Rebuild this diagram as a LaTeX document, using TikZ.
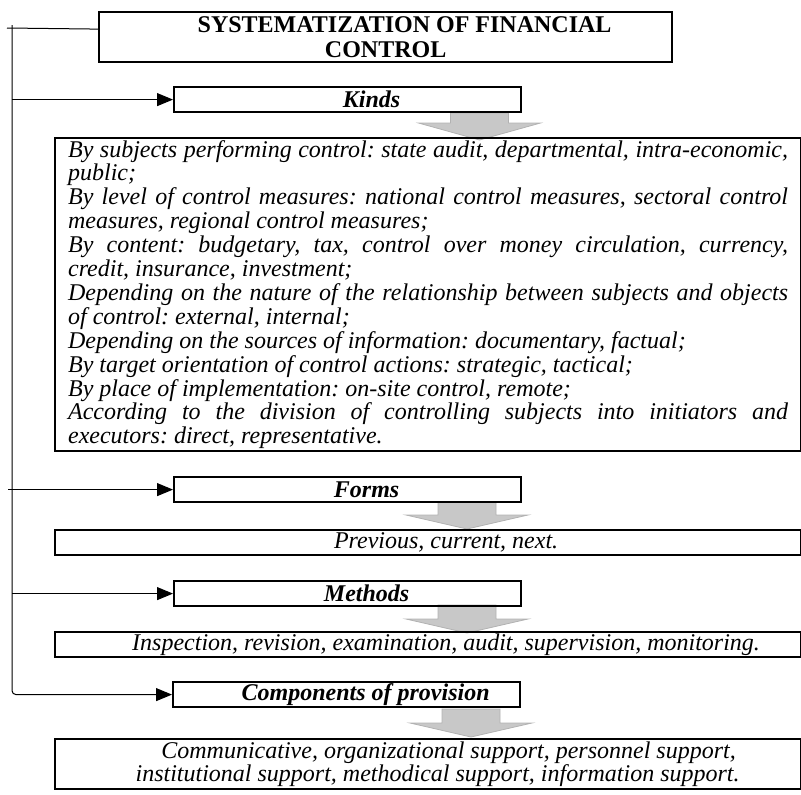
\documentclass[tikz,border=0pt]{standalone}
\usepackage{fontspec}
\setmainfont{Liberation Serif}
\usetikzlibrary{arrows.meta}

\definecolor{arrowfill}{RGB}{200,200,200}
\definecolor{arrowline}{RGB}{178,178,178}

% text shifted a little to the right, as in the original layout
\newcommand{\shifted}[2][38pt]{\hspace*{#1}#2}
% broad gray arrow pointing down: centre x, top, start of head, tip
\newcommand{\grayarrow}[4]{%
  \filldraw[fill=arrowfill, draw=arrowline, line width=0.8pt]
    (#1-29,#2) -- (#1+29,#2) -- (#1+29,#3) -- (#1+61,#3) -- (#1,#4)
    -- (#1-61,#3) -- (#1-29,#3) -- cycle;}

\tikzset{
  box/.style={draw, line width=2.2pt, inner sep=0pt, anchor=north west},
  headbox/.style={box, minimum width=347pt, minimum height=25pt,
    font=\fontsize{24}{24}\selectfont\bfseries\itshape},
  listbox/.style={box, minimum width=746pt, minimum height=25pt,
    font=\fontsize{24}{23.5}\selectfont\itshape},
  link/.style={line width=1pt, -{Triangle[length=16pt,width=13pt]}},
}

\begin{document}
\frenchspacing
\begin{tikzpicture}[x=1pt,y=-1pt]
    \useasboundingbox (0,0) rectangle (801,795);

    \grayarrow{479.5}{113}{123}{140}
    \grayarrow{467}{502}{515}{529}
    \grayarrow{467}{605}{619}{633}
    \grayarrow{471}{709}{723}{737}

    \node[box, minimum width=573pt, minimum height=50pt, align=center,
      font=\fontsize{24}{25}\selectfont\bfseries] (title) at (98,11)
      {\shifted[38pt]{SYSTEMATIZATION OF FINANCIAL}\\CONTROL};

    \node[headbox] (kinds) at (173,86) {\shifted[48pt]{Kinds}};
    \node[box, minimum width=746pt, minimum height=313pt, text width=720pt,
      inner xsep=13pt, align=justify,
      font=\fontsize{24}{23.9}\selectfont\itshape] (kindslist) at (54,137) {%
      \tolerance=9999 \hyphenpenalty=10000
      By subjects performing control: state audit, departmental, intra-economic,\linebreak public;\par
      By level of control measures: national control measures, sectoral control\linebreak measures, regional control measures;\par
      By content: budgetary, tax, control over money circulation, currency,\linebreak credit, insurance, investment;\par
      Depending on the nature of the relationship between subjects and objects\linebreak of control: external, internal;\par
      Depending on the sources of information: documentary, factual;\par
      By target orientation of control actions: strategic, tactical;\par
      By place of implementation: on-site control, remote;\par
      According to the division of controlling subjects into initiators and\linebreak executors: direct, representative.};

    \node[headbox] (forms) at (173,476) {\shifted{Forms}};
    \node[listbox] (formslist) at (54,529) {\shifted[36pt]{Previous, current, next.}};

    \node[headbox] (methods) at (173,580) {\shifted{Methods}};
    \node[listbox] (methodslist) at (54,631)
      {\shifted[36pt]{Inspection, revision, examination, audit, supervision, monitoring.}};

    \node[headbox] (components) at (172,681) {\shifted{Components of provision}};
    \node[listbox, minimum height=50pt, align=center] (componentslist) at (54,738)
      {\shifted[41pt]{Communicative, organizational support, personnel support,}\\
       \shifted[19pt]{institutional support, methodical support, information support.}};

    % left spine with the branches
    \coordinate (spinetop) at (12,25);
    \coordinate (topleft) at (7,28);
    \draw[line width=1pt] (topleft) -- ([yshift=8pt]title.west);
    \draw[link, rounded corners=4pt] (spinetop) |- (components.west);
    \draw[link] (spinetop |- kinds.west) -- (kinds.west);
    \draw[link] ([xshift=-4pt]spinetop |- forms.west) -- (forms.west);
    \draw[link] (spinetop |- methods.west) -- (methods.west);
\end{tikzpicture}
\end{document}
